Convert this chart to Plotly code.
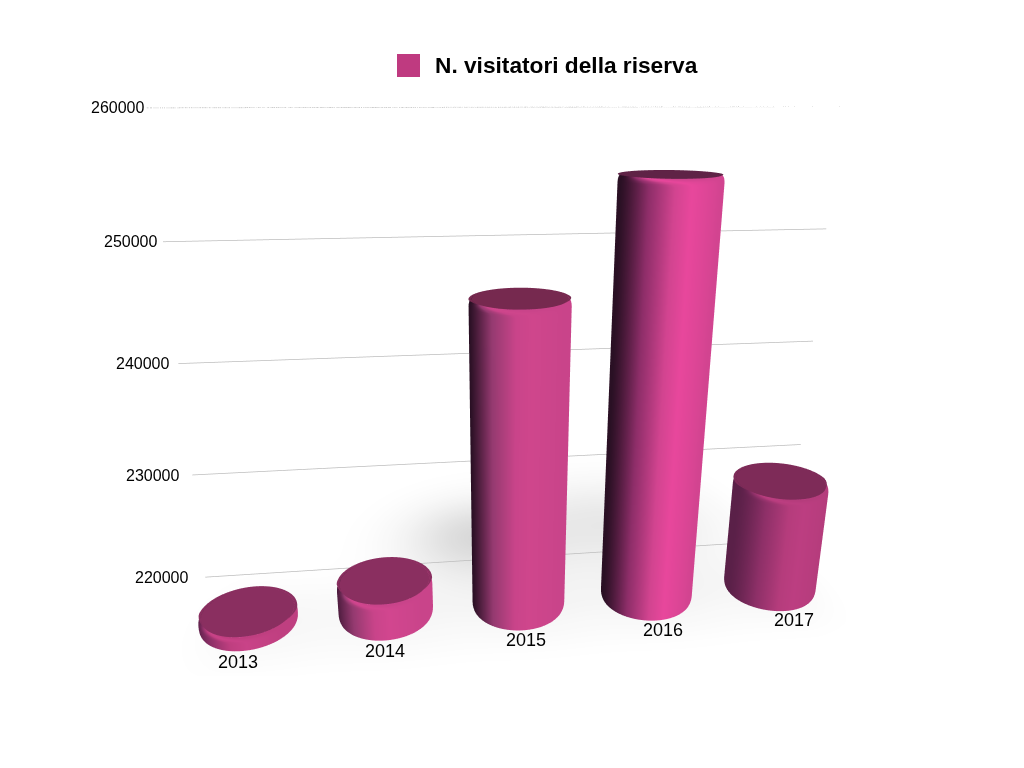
import numpy as np
import plotly.graph_objects as go

categories = ["2013", "2014", "2015", "2016", "2017"]
values = [219600, 221700, 245900, 255200, 229000]
tick_values = [220000, 230000, 240000, 250000, 260000]
series_name = "N. visitatori della riserva"

# side shading of each bar: left edge, body, brightest band
edge_colors = ["#5a2048", "#4a1b3c", "#2a1024", "#2a1024", "#5a2048"]
body_colors = ["#bf3f80", "#c9448a", "#c9448a", "#d24490", "#b53c7c"]
bright_colors = ["#c94388", "#d2468f", "#cf468c", "#e8479c", "#bc3e81"]
mid_colors = ["#8e3068", "#953a70", "#953a70", "#8e2e69", "#8e3068"]
cap_colors = ["#8a2f60", "#8a2f60", "#76294f", "#5f2346", "#7e2b58"]
rim_color = "#ee4fb0"
legend_color = "#bf3a80"

BASE = 218300
TOP = 260000
XR = (-0.6, 4.6)
YR = (-0.6, 3.4)
R = 0.35
RIM = 0.022
CY = 0.37
WALL_Y = 0.85
PX_X = 134.0
PX_Z = 470.0 / (TOP - 220000)
FLAT = dict(ambient=1, diffuse=0, specular=0, roughness=1, fresnel=0)

traces = []
fx = np.linspace(XR[0], XR[1], 110)
fy = np.linspace(YR[0], YR[1], 90)
FX, FY = np.meshgrid(fx, fy)
shade = 0.30 * np.exp(-((FX - 1.75) ** 2 / 0.35 + (FY - 1.5) ** 2 / 0.5)) + 0.20 * np.exp(-((FX - 3.0) ** 2 / 0.8 + (FY - 1.6) ** 2 / 0.8))
for i in range(len(values)):
    shade = shade + 0.07 * np.exp(-((FX - i - 0.1) ** 2 / 0.3 + (FY - CY) ** 2 / 0.25))
shade = shade * np.clip((FY - YR[0]) / 0.45, 0, 1) * np.clip((FX - XR[0]) / 0.5, 0, 1) * np.clip((XR[1] - FX) / 0.5, 0, 1)
traces.append(go.Surface(x=FX, y=FY, z=np.full(FX.shape, BASE - 10), surfacecolor=shade, cmin=0, cmax=1,
                         colorscale=[[0, "#ffffff"], [1, "#8a8a8a"]], showscale=False, hoverinfo="skip", lighting=FLAT))

LX0 = XR[0] + 0.2
LX1 = XR[1] - 0.24
for t in tick_values:
    traces.append(go.Scatter3d(x=[LX0, LX1], y=[WALL_Y, WALL_Y], z=[t, t], mode="lines",
                               line=dict(color="#bdbdbd", width=1.5), hoverinfo="skip", showlegend=False))

th = np.linspace(0, 2 * np.pi, 181)
for i, v in enumerate(values):
    h = v - BASE
    bev = min(600.0, h * 0.4)
    s = np.linspace(0, np.pi / 2, 6)
    zs = np.concatenate([BASE + bev * (1 - np.cos(s)), v - bev * (1 - np.sin(s))])
    rs = np.concatenate([R - RIM * (1 - np.sin(s)), R - RIM * (1 - np.cos(s))])
    glow = np.concatenate([np.zeros(6), 0.9 * np.sin(s) ** 3])
    T, Rad = np.meshgrid(th, rs)
    Z = np.tile(zs[:, None], (1, len(th)))
    col = (np.cos(T) + 1) / 2
    col = np.where(np.sin(T) > 0, np.where(np.cos(T) < 0, 0, 1), col) * 0.9
    k = glow[:, None] * np.clip(-np.sin(T), 0, 1) ** 3
    col = col * (1 - k) + k
    scale = [[0.0, edge_colors[i]], [0.17, mid_colors[i]], [0.36, body_colors[i]], [0.50, bright_colors[i]],
             [0.80, body_colors[i]], [0.90, body_colors[i]], [1.0, rim_color]]
    traces.append(go.Surface(x=i + Rad * np.cos(T), y=CY + Rad * np.sin(T), z=Z, surfacecolor=col, cmin=0, cmax=1,
                             colorscale=scale, showscale=False, hoverinfo="skip", lighting=FLAT))
    TC, UC = np.meshgrid(th, np.array([0.0, 1.0]))
    RC = UC * (R - RIM * np.clip(-np.sin(TC) * 2, 0, 1))
    traces.append(go.Surface(x=i + RC * np.cos(TC), y=CY + RC * np.sin(TC), z=np.full(TC.shape, v),
                             surfacecolor=np.zeros(TC.shape), cmin=0, cmax=1,
                             colorscale=[[0, cap_colors[i]], [1, cap_colors[i]]], showscale=False,
                             hoverinfo="skip", lighting=FLAT))

scene_notes = [dict(x=LX0, y=WALL_Y, z=t, text=str(t), showarrow=False, xanchor="right", yanchor="middle",
                    xshift=0 - 15 * (TOP - t) / 40000,
                    font=dict(family="Liberation Sans", size=16, color="#000000")) for t in tick_values]
scene_notes += [dict(x=i, y=CY - R - 0.13, z=BASE, text=c, showarrow=False, xanchor="center", yanchor="middle", yshift=2,
                     font=dict(family="Liberation Sans", size=18, color="#000000")) for i, c in enumerate(categories)]

sx = (XR[1] - XR[0]) * PX_X
sy = (YR[1] - YR[0]) * PX_X * 0.9
sz = (TOP - BASE) * PX_Z
ax = dict(visible=False, showgrid=False, zeroline=False, showbackground=False, showticklabels=False, title="")
OFF = 8  # page body margin
fig = go.Figure(traces)
fig.update_layout(
    width=1024, height=768, margin=dict(l=0, r=0, t=0, b=0), paper_bgcolor="#ffffff", showlegend=False,
    scene=dict(
        domain=dict(x=[0, 0.97], y=[0.13, 1]),
        xaxis=dict(ax, range=list(XR)), yaxis=dict(ax, range=list(YR)), zaxis=dict(ax, range=[BASE - 20, TOP]),
        aspectmode="manual", aspectratio=dict(x=sx / sz, y=sy / sz, z=1),
        camera=dict(eye=dict(x=-0.195, y=-1.69, z=0.525), center=dict(x=0, y=0, z=0), up=dict(x=0, y=0, z=1),
                    projection=dict(type="perspective")),
        annotations=scene_notes,
    ),
    shapes=[dict(type="rect", xref="paper", yref="paper", x0=(397 - OFF) / 1024, x1=(420 - OFF) / 1024,
                 y0=1 - (77 - OFF) / 768, y1=1 - (54 - OFF) / 768, fillcolor=legend_color, line=dict(width=0))],
    annotations=[dict(text="<b>" + series_name + "</b>", xref="paper", yref="paper", x=(433 - OFF) / 1024, y=1 - (65.5 - OFF) / 768,
                      xanchor="left", yanchor="middle", showarrow=False,
                      font=dict(family="Liberation Sans", size=22.7, color="#000000"))],
)
fig.write_html("out.html")
